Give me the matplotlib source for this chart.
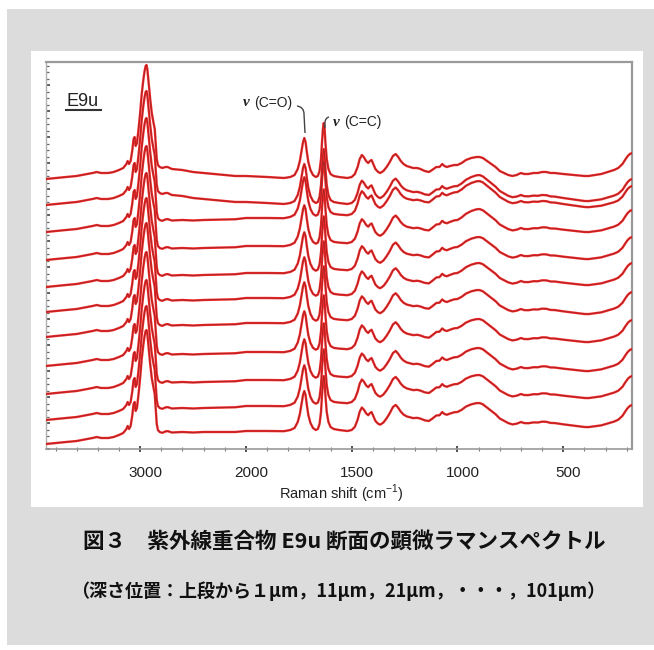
import numpy as np
import matplotlib
matplotlib.use("Agg")
import matplotlib.pyplot as plt
from matplotlib.patches import Rectangle, PathPatch
from matplotlib.path import Path
from matplotlib.ticker import FixedLocator, MultipleLocator, NullFormatter
from matplotlib.transforms import ScaledTranslation

plt.rcParams['mathtext.fontset'] = 'custom'
plt.rcParams['mathtext.rm'] = 'Liberation Sans'

# ---- data -----------------------------------------------------------------
# Raman shift (cm-1) and intensity of the 1 um spectrum (arbitrary units)
shift = [3890, 3800, 3700, 3600, 3500, 3450, 3410, 3370, 3300, 3250, 3200, 3160,
         3130, 3118, 3105, 3090, 3075, 3062, 3052, 3042, 3030, 3015, 3000, 2985,
         2970, 2958, 2948, 2940, 2932, 2920, 2905, 2890, 2875, 2862, 2852, 2843,
         2832, 2815, 2790, 2760, 2740, 2700, 2600, 2500, 2400, 2300, 2200, 2100,
         2000, 1900, 1820, 1790, 1770, 1755, 1745, 1737, 1730, 1724, 1718, 1712,
         1705, 1695, 1683, 1670, 1660, 1652, 1645, 1640, 1636, 1632, 1628, 1624,
         1618, 1610, 1600, 1585, 1560, 1520, 1500, 1485, 1472, 1462, 1452, 1443,
         1432, 1422, 1414, 1406, 1398, 1388, 1375, 1365, 1350, 1335, 1320, 1305,
         1292, 1280, 1268, 1255, 1240, 1225, 1210, 1190, 1175, 1155, 1135, 1120,
         1100, 1085, 1072, 1062, 1050, 1035, 1015, 1000, 980, 960, 935, 910, 895,
         880, 860, 840, 820, 800, 780, 760, 740, 720, 700, 685, 665, 640, 620, 600,
         580, 560, 540, 500, 450, 400, 380, 350, 320, 290, 260, 240, 220, 205, 195,
         185, 175]
intensity = [0, 1, 2, 3, 5, 6, 7, 6, 6, 7, 9, 11,
             15, 18, 15, 18, 28, 40, 42, 33, 36, 50, 66, 85,
             99, 108, 113, 114, 110, 97, 80, 66, 57, 50, 35, 20,
             14, 12, 11, 12, 12, 10, 9, 7, 6, 5, 4, 3,
             3, 2, 1, 2, 4, 10, 18, 28, 37, 41, 37, 27,
             17, 9, 4, 2, 3, 8, 20, 38, 50, 56, 50, 36,
             20, 10, 5, 3, 2, 1, 2, 5, 12, 20, 24, 22,
             18, 16, 18, 19, 15, 10, 7, 6, 8, 12, 17, 23,
             25, 22, 18, 15, 13, 12, 11, 11, 10, 8, 7, 9,
             12, 12, 15, 13, 12, 13, 14, 14, 16, 19, 21, 22, 22,
             21, 18, 15, 12, 8, 6, 4, 3, 4, 6, 5, 5, 6, 6, 7,
             7, 6, 6, 5, 4, 3, 3, 4, 5, 7, 9, 11, 15, 20, 23,
             25, 26]

# depth positions (um), top trace first, and the vertical stacking offsets
depth_um = [1, 11, 21, 31, 41, 51, 61, 71, 81, 91, 101]
offsets = [270, 244, 217, 189, 162, 137, 112, 83, 55, 29, 5]

# background (fluorescence) rise of each depth relative to the 1 um spectrum
lift_shift = [3890, 2800, 2400, 2000, 1800, 1500, 1200, 1000, 900, 700, 400, 175]
baseline_lift = [
    [0, 0, 0, 0, 0, 0, 0, 0, 0, 0, 0, 0],
    [0, 0, 0, 0, 0, 0, 2, 5, 8, 4, 1, 0],
    [0, 0, 6, 11, 13, 16, 21, 26, 29, 25, 22, 20],
    [0, 0, 6, 11, 13, 16, 21, 26, 29, 26, 25, 24],
    [0, 0, 6, 11, 13, 16, 21, 26, 28, 26, 25, 24],
    [0, 0, 6, 11, 13, 16, 20, 25, 27, 25, 24, 23],
    [0, 0, 6, 11, 13, 16, 20, 24, 25, 22, 20, 19],
    [0, 0, 6, 11, 13, 16, 20, 24, 25, 22, 21, 20],
    [0, 0, 6, 11, 13, 16, 19, 23, 24, 21, 20, 19],
    [0, 0, 6, 11, 13, 16, 19, 22, 23, 20, 19, 18],
    [0, 0, 6, 10, 12, 12, 15, 18, 19, 16, 14, 13],
]

major_ticks = [3000, 2000, 1500, 1000, 500]

# ---- figure ---------------------------------------------------------------
W, H = 654, 650
fig = plt.figure(figsize=(W / 100, H / 100), dpi=100)
fig.patch.set_facecolor('white')


def fx(x):
    return x / W


def fy(y):
    return 1 - y / H


# grey page and white chart panel
fig.add_artist(Rectangle((fx(7), fy(645)), fx(647), (645 - 9) / H,
                         transform=fig.transFigure, facecolor='#dcdcdc',
                         edgecolor='none', zorder=0))
fig.add_artist(Rectangle((fx(31), fy(507)), fx(612), (507 - 51) / H,
                         transform=fig.transFigure, facecolor='white',
                         edgecolor='none', zorder=1))

ax = fig.add_axes([fx(46), fy(449), fx(586), 387 / H], zorder=2)
ax.set_facecolor('white')


# compressed axis above 2000 cm-1 (half scale)
def fwd(x):
    x = np.asarray(x, dtype=float)
    return np.where(x > 2000, 2000 + (x - 2000) / 2, x)


def inv(p):
    p = np.asarray(p, dtype=float)
    return np.where(p > 2000, 2000 + (p - 2000) * 2, p)


ax.set_xscale('function', functions=(fwd, inv))
ax.set_xlim(3890, 175)
ax.set_ylim(0, 387)

x = np.array(shift, dtype=float)
y = np.array(intensity, dtype=float)
ls = np.array(lift_shift, dtype=float)[::-1]
for off, lift in zip(offsets, baseline_lift):
    bg = np.interp(x, ls, np.array(lift, dtype=float)[::-1])
    yy = y + bg + off
    ax.plot(x, yy, color='#f02828', lw=1.7, solid_joinstyle='round', zorder=3)
    ax.plot(x, yy, color='#7a2222', lw=0.45, alpha=0.8, zorder=4)

# ticks
minor = list(range(3800, 2000, -200)) + list(range(1900, 100, -100))
ax.xaxis.set_major_locator(FixedLocator(major_ticks))
ax.xaxis.set_minor_locator(FixedLocator([m for m in minor if m not in major_ticks]))
ax.set_xticklabels([str(t) for t in major_ticks])
ax.tick_params(axis='x', which='major', direction='inout', length=4, width=1.2,
               color='#333333', labelsize=11, labelcolor='#222222', pad=10)
ax.tick_params(axis='x', which='minor', direction='inout', length=3, width=0.8,
               color='#777777')
for lab in ax.get_xticklabels():
    lab.set_fontfamily('Liberation Sans')
    lab.set_transform(lab.get_transform() +
                      ScaledTranslation(5 / 100, 0, fig.dpi_scale_trans))

ax.yaxis.set_major_locator(MultipleLocator(26))
ax.yaxis.set_minor_locator(MultipleLocator(6.5))
ax.yaxis.set_major_formatter(NullFormatter())
ax.tick_params(axis='y', which='major', direction='in', length=3, width=1.2,
               color='#444444')
ax.tick_params(axis='y', which='minor', direction='in', length=2, width=0.9,
               color='#666666')

for side in ['top', 'right']:
    ax.spines[side].set_color('#9a9a9a')
    ax.spines[side].set_linewidth(1.6)
ax.spines['bottom'].set_color('#9a9a9a')
ax.spines['bottom'].set_linewidth(1.2)
ax.spines['left'].set_color('#b0b0b0')
ax.spines['left'].set_linewidth(1.0)

fig.text(fx(341), fy(494), 'Raman shift (cm$^{-1}$)', ha='center', va='center',
         fontsize=10.5, family='Liberation Sans', color='#222222', zorder=6)

# sample label
fig.text(fx(67), fy(102), 'E9u', ha='left', va='center', fontsize=13,
         family='Liberation Sans', color='#222222', zorder=6)
fig.add_artist(plt.Line2D([fx(66), fx(101)], [fy(110), fy(110)],
                          transform=fig.transFigure, color='#333333', lw=1.5,
                          zorder=6))


# band assignments
def band_label(xp, yp, txt):
    fig.text(fx(xp), fy(yp), '\u03bd', ha='left', va='center', fontsize=11,
             family='Liberation Serif', weight='bold', style='italic',
             color='#222222', zorder=6)
    fig.text(fx(xp + 11), fy(yp), txt, ha='left', va='center', fontsize=10,
             family='Liberation Sans', color='#222222', zorder=6)


band_label(243, 103, '(C=O)')
band_label(333, 122, '(C=C)')


def hook(pts):
    verts = [(fx(a), fy(b)) for a, b in pts]
    codes = [Path.MOVETO, Path.CURVE3, Path.CURVE3, Path.LINETO]
    fig.add_artist(PathPatch(Path(verts, codes), transform=fig.transFigure,
                             facecolor='none', edgecolor='#444444', lw=1.0,
                             zorder=6))


hook([(297, 106), (304, 107), (304, 114), (305, 133)])
hook([(329, 117), (325, 118), (325, 123), (325, 128)])

# caption
cap_font = ['Noto Sans CJK JP', 'DejaVu Sans']
fig.text(fx(344), fy(541),
         '図３　紫外線重合物 E9u 断面の顕微ラマンスペクトル',
         ha='center', va='center', fontsize=15.5, weight='bold',
         family=cap_font, color='#111111')
fig.text(fx(338), fy(591),
         '（深さ位置：上段から１μm，11μm，21μm，・・・，101μm）',
         ha='center', va='center', fontsize=13, weight='bold',
         family=cap_font, color='#111111')

fig.savefig('out.png', dpi=100, facecolor=fig.get_facecolor())
